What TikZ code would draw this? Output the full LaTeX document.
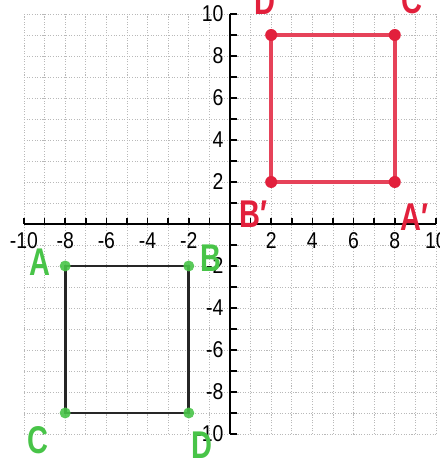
\documentclass[tikz,border=0pt]{standalone}
\usepackage{fontspec}
\setmainfont{Liberation Sans}
\definecolor{penred}{RGB}{226,32,60}
\definecolor{pengreen}{RGB}{72,196,72}
\definecolor{gridgray}{RGB}{185,185,185}
\begin{document}
\begin{tikzpicture}[x=0.412cm,y=0.42cm,
  gridline/.style={gridgray,line width=0.5pt,dash pattern=on 0.6pt off 0.9pt},
  axisline/.style={black,line width=1.2pt},
  ticknum/.style={font=\fontsize{13}{14}\selectfont,xscale=0.85,inner sep=0pt},
  hand/.style={font=\fontsize{22}{24}\selectfont\bfseries,xscale=0.75,inner sep=0pt},
  reddot/.style={circle,fill=penred,inner sep=0pt,minimum size=0.24cm},
  greendot/.style={circle,fill=pengreen,inner sep=0pt,minimum size=0.22cm}]
\useasboundingbox (-11.165,-11.43) rectangle (10.194,10.667);
% grid
\foreach \i in {-10,...,10} {
  \draw[gridline] (\i,-10) -- (\i,10);
  \draw[gridline] (-10,\i) -- (10,\i);
}
% axes
\draw[axisline] (-10,0) -- (10,0);
\draw[axisline] (0,-10) -- (0,10);
\foreach \i in {-10,...,10} {
  \draw[black,line width=0.9pt] (\i,0) -- (\i,0.28);
  \draw[black,line width=0.9pt] (0,\i) -- (0.32,\i);
}
\foreach \i in {-10,-8,-6,-4,-2,2,4,6,8,10} {
  \node[ticknum] (xl\i) at (\i,-0.78) {\i};
  \node[ticknum,anchor=east] (yl\i) at (-0.3,\i) {\i};
}
% original figure ABCD (black, green points)
\coordinate (A) at (-8,-2);
\coordinate (B) at (-2,-2);
\coordinate (D) at (-2,-9);
\coordinate (C) at (-8,-9);
\draw[black!85,line width=1.6pt] (A) -- (B) -- (D) -- (C) -- cycle;
\foreach \p in {A,B,C,D} \node[greendot,opacity=0.9] (g\p) at (\p) {};
\node[hand,pengreen] (lA) at (-9.22,-1.8) {A};
\node[hand,pengreen] (lB) at (-0.9,-1.62) {B};
\node[hand,pengreen] (lC) at (-9.32,-10.3) {C};
\node[hand,pengreen] (lD) at (-1.36,-10.52) {D};
% image figure (red)
\coordinate (Ap) at (8,2);
\coordinate (Bp) at (2,2);
\coordinate (Dp) at (2,9);
\coordinate (Cp) at (8,9);
\draw[penred!85,line width=2pt] (Bp) -- (Ap) -- (Cp) -- (Dp) -- cycle;
\foreach \p in {Ap,Bp,Cp,Dp} \node[reddot] (r\p) at (\p) {};
\node[hand,penred] (lBp) at (1.15,0.45) {B′};
\node[hand,penred] (lAp) at (8.95,0.3) {A′};
\node[hand,penred] (lDp) at (1.7,10.6) {D};
\node[hand,penred] (lCp) at (8.85,10.65) {C};
\end{tikzpicture}
\end{document}
